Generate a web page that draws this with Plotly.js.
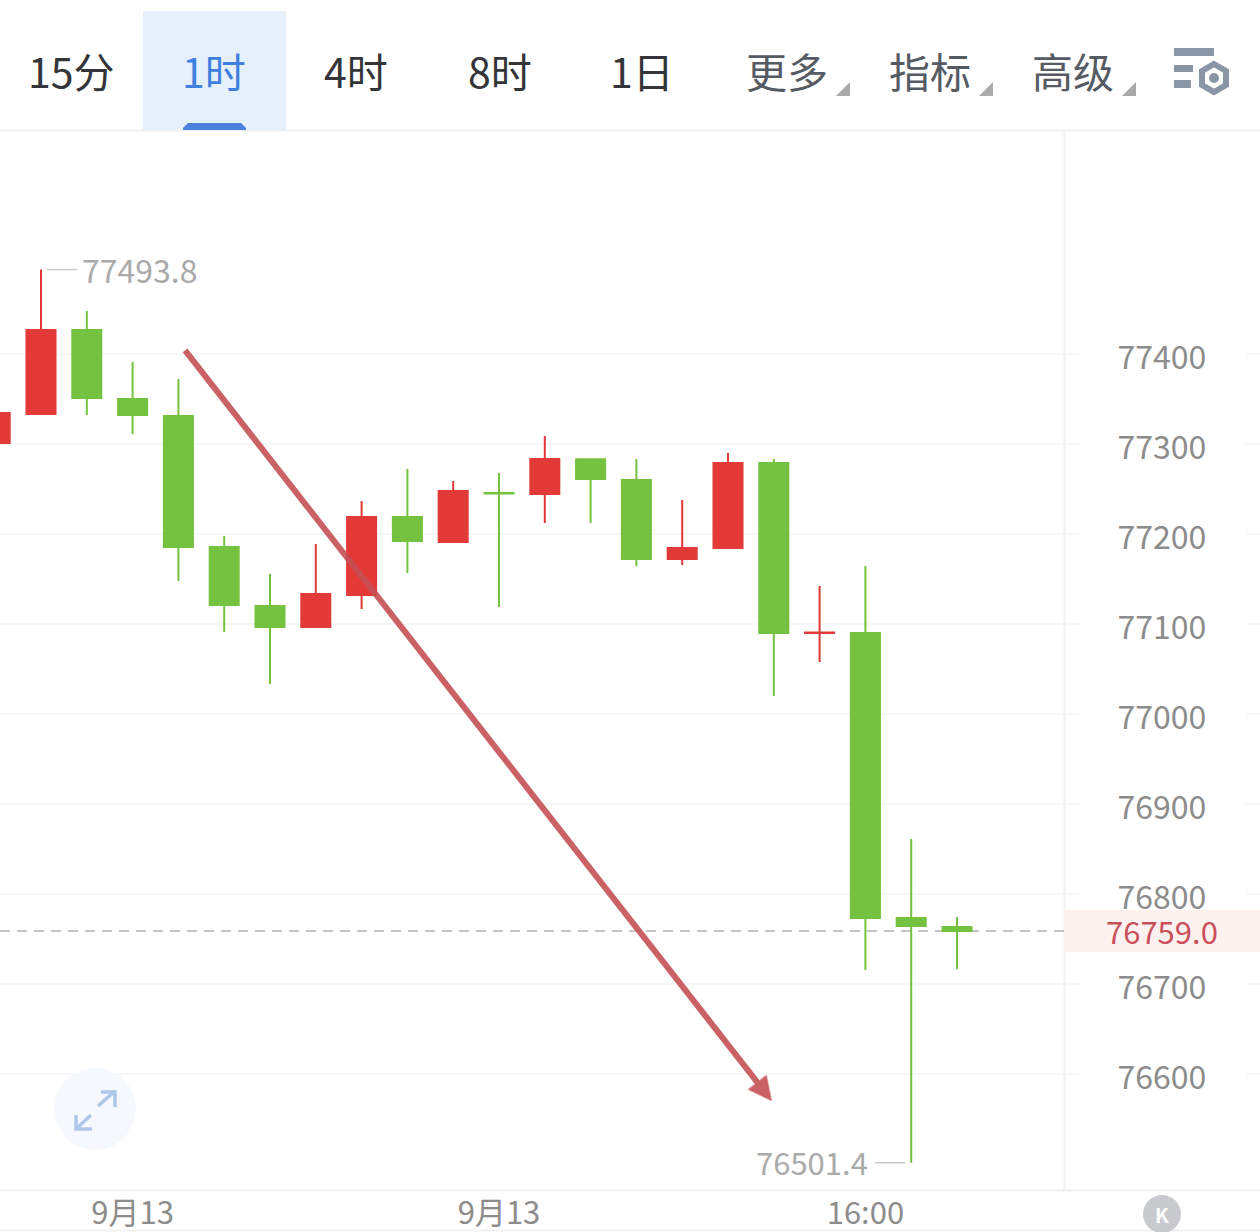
<!DOCTYPE html>
<html>
<head>
<meta charset="utf-8">
<script src="https://cdn.plot.ly/plotly-3.0.1.min.js"></script>
<style>html,body{margin:0;padding:0;background:#fff;overflow:hidden}#chart{width:1260px;height:1232px}</style>
</head>
<body>
<div id="chart"></div>
<script>
// Candle data
const candleIndex = [-1,0,1,2,3,4,5,6,7,8,9,10,11,12,13,14,15,16,17,18,19,20];
const openValues  = [77301.1,77333.3,77426.7,77350.0,77331.1,77185.6,77120.0,77096.7,77132.2,77218.9,77191.1,77245.6,77244.4,77283.0,77260.0,77172.2,77184.4,77278.9,77090.0,77090.0,76773.3,76763.3];
const highValues  = [77334.4,77493.8,77447.8,77391.1,77372.2,77197.8,77155.6,77188.9,77236.7,77272.2,77258.9,77267.8,77308.9,77283.0,77283.3,77237.8,77290.0,77283.3,77142.2,77164.4,76861.1,76774.4];
const lowValues   = [77301.1,77333.3,77332.2,77311.1,77147.8,77091.1,77033.3,77096.7,77116.7,77156.7,77191.1,77118.9,77212.2,77212.2,77164.4,77165.6,77184.4,77020.0,77057.8,76715.6,76501.4,76716.7];
const closeValues = [77334.4,77426.7,77351.1,77332.2,77185.6,77121.1,77096.7,77133.3,77218.9,77192.2,77247.8,77245.0,77283.3,77261.1,77172.2,77184.4,77278.9,77090.0,77090.5,76773.3,76764.4,76759.0];

const priceTicks = [76600,76700,76800,76900,77000,77100,77200,77300,77400];
const timeTickPositions = [2,10,18];
const timeTickLabels = ['9月13','9月13','16:00'];
const lastPrice = 76759.0;
const maxPrice = 77493.8, maxIndex = 0;
const minPrice = 76501.4, minIndex = 19;
const tabLabels = ['15分','1时','4时','8时','1日','更多','指标','高级'];
const tabCenters = [71,214,356,500,642,787,930,1073];
const tabColors = ['#333538','#3f7fe0','#333538','#333538','#333538','#555a63','#555a63','#555a63'];
const trendArrow = {fromIndex:3.12, fromPrice:77405.6, toIndex:15.96, toPrice:76570};

const W = 1260, H = 1232;
const px = x => x / W, py = y => 1 - y / H;
const FONT = '"Noto Sans CJK SC","Noto Sans",sans-serif';
const GRID = '#f6f7f9', EDGE = '#f1f1f2';

function rect(x0, y0, x1, y1, fill, layer) {
  return {type:'rect', xref:'paper', yref:'paper', x0:px(x0), x1:px(x1), y0:py(y0), y1:py(y1),
          fillcolor:fill, line:{width:0}, layer:layer || 'above'};
}
function hline(x0, x1, y, color) {
  return {type:'line', xref:'paper', yref:'paper', x0:px(x0), x1:px(x1), y0:py(y), y1:py(y), line:{color:color, width:2}, layer:'below'};
}
function poly(points, fill, stroke, sw, close) {
  const d = points.map((p,i) => (i ? 'L' : 'M') + px(p[0]) + ',' + py(p[1])).join(' ') + (close === false ? '' : ' Z');
  return {type:'path', xref:'paper', yref:'paper', path:d, fillcolor:fill || 'rgba(0,0,0,0)', line:{color:stroke || 'rgba(0,0,0,0)', width:sw || 0}, layer:'above'};
}
function circle(cx, cy, r, fill) {
  return {type:'circle', xref:'paper', yref:'paper', x0:px(cx-r), x1:px(cx+r), y0:py(cy+r), y1:py(cy-r), fillcolor:fill, line:{width:0}, layer:'above'};
}

const shapes = [
  rect(143, 11, 286, 130, '#e6f0fb', 'below'),
  hline(0, W, 130.5, EDGE),
  hline(0, W, 1190.5, EDGE),
  hline(0, W, 1230.5, EDGE),
  {type:'line', xref:'paper', yref:'paper', x0:px(1064.5), x1:px(1064.5), y0:py(130), y1:py(1190), line:{color:EDGE, width:2}, layer:'below'},
  poly([[183,130],[183,128],[188,123],[241,123],[246,128],[246,130]], '#4a80de'),
  rect(1064, 910, W, 952, '#fdf1f0', 'below'),
  // last price dashed line
  {type:'line', xref:'paper', yref:'y', x0:0, x1:px(1064), y0:lastPrice, y1:lastPrice, line:{color:'#c4c4c4', width:2, dash:'10px,7px'}, layer:'below'},
  // max / min leaders
  {type:'line', xref:'x', xsizemode:'pixel', xanchor:maxIndex, x0:6, x1:36, yref:'y', y0:maxPrice, y1:maxPrice, line:{color:'#c8c8c8', width:1.5}},
  {type:'line', xref:'x', xsizemode:'pixel', xanchor:minIndex, x0:-36, x1:-6, yref:'y', y0:minPrice, y1:minPrice, line:{color:'#c8c8c8', width:1.5}},
  // settings icon
  rect(1174, 48, 1214, 56, '#8a95a5'),
  rect(1174, 65, 1193, 72, '#8a95a5'),
  rect(1174, 80, 1191, 88, '#8a95a5'),
  poly([[1214,64],[1226,71],[1226,85],[1214,92],[1202,85],[1202,71]], '#ffffff', '#8a95a5', 6),
  circle(1214, 78, 5, '#8a95a5'),
  // tab triangles
  poly([[850,82],[850,96],[836,96]], '#aaaaaa'),
  poly([[993,82],[993,96],[979,96]], '#aaaaaa'),
  poly([[1136,82],[1136,96],[1122,96]], '#aaaaaa'),
  // expand button
  circle(95, 1109, 41, '#f5f8fd'),
  poly([[98,1106],[115,1091]], null, '#b0c6e8', 3.5, false),
  poly([[101,1092],[115,1092],[115,1107]], null, '#b0c6e8', 3.5, false),
  poly([[91,1115],[76,1129]], null, '#b0c6e8', 3.5, false),
  poly([[76,1115],[76,1129],[92,1129]], null, '#b0c6e8', 3.5, false),
  // history button
  circle(1162, 1214, 19, '#c9cacd')
];
// short grid stubs right of the price labels
priceTicks.forEach(v => shapes.push({type:'line', xref:'paper', yref:'y', x0:px(1246), x1:1, y0:v, y1:v, line:{color:GRID, width:2}, layer:'below'}));

const annotations = tabLabels.map((t,i) => ({
  xref:'paper', yref:'paper', x:px(tabCenters[i]), y:py(70), xanchor:'center', yanchor:'middle',
  text:t, showarrow:false, font:{family:FONT, size:41, color:tabColors[i]}
}));
annotations.push(
  {xref:'x', yref:'y', x:maxIndex, y:maxPrice, xshift:39, yshift:1, xanchor:'left', yanchor:'middle', showarrow:false,
   text:maxPrice.toFixed(1), font:{family:FONT, size:32, color:'#aaaaaa'}},
  {xref:'x', yref:'y', x:minIndex, y:minPrice, xshift:-41, yshift:1, xanchor:'right', yanchor:'middle', showarrow:false,
   text:minPrice.toFixed(1), font:{family:FONT, size:31, color:'#aaaaaa'}},
  {xref:'paper', yref:'paper', x:px(1162), y:py(930), xanchor:'center', yanchor:'middle', showarrow:false,
   text:lastPrice.toFixed(1), font:{family:FONT, size:31, color:'#c9505a'}},
  {xref:'paper', yref:'paper', x:px(1162), y:py(1214), xanchor:'center', yanchor:'middle', showarrow:false,
   text:'<b>K</b>', font:{family:FONT, size:20, color:'#ffffff'}},
  {xref:'x', yref:'y', axref:'x', ayref:'y', x:trendArrow.toIndex, y:trendArrow.toPrice, ax:trendArrow.fromIndex, ay:trendArrow.fromPrice,
   text:'', showarrow:true, arrowhead:2, arrowsize:0.8, arrowwidth:6, arrowcolor:'rgba(196,80,84,0.9)', standoff:0}
);

const trace = {
  type:'candlestick', x:candleIndex, open:openValues, high:highValues, low:lowValues, close:closeValues,
  increasing:{line:{color:'#e23a39', width:2}, fillcolor:'#e33a38'},
  decreasing:{line:{color:'#74c23f', width:2}, fillcolor:'#74c23f'},
  whiskerwidth:0, hoverinfo:'skip', showlegend:false
};

const layout = {
  width:W, height:H, margin:{l:0,r:0,t:0,b:0}, paper_bgcolor:'#ffffff', plot_bgcolor:'#ffffff',
  showlegend:false, boxgap:0.095,
  xaxis:{domain:[0,1064/W], range:[-41/45.8,(1064-41)/45.8], type:'linear', showgrid:false, zeroline:false,
         showline:false, rangeslider:{visible:false}, tickmode:'array', tickvals:timeTickPositions, ticktext:timeTickLabels,
         ticks:'', tickangle:0, ticklabelstandoff:2, tickfont:{family:FONT, size:31, color:'#8c8c8c'}, automargin:false},
  yaxis:{domain:[1-1190/H,1-130/H], range:[77400-(1190-354)/0.9,77400+(354-130)/0.9], side:'right', showgrid:true, gridcolor:GRID, gridwidth:2,
         zeroline:false, showline:false, tickmode:'array', tickvals:priceTicks, ticktext:priceTicks.map(String),
         ticks:'outside', ticklen:14, tickwidth:2, tickcolor:GRID, ticklabelstandoff:32, ticklabelshift:4, tickfont:{family:FONT, size:32, color:'#8c8c8c'}, automargin:false},
  shapes:shapes, annotations:annotations
};
Plotly.newPlot('chart',[trace],layout,{displayModeBar:false,responsive:false});
</script>
</body>
</html>
